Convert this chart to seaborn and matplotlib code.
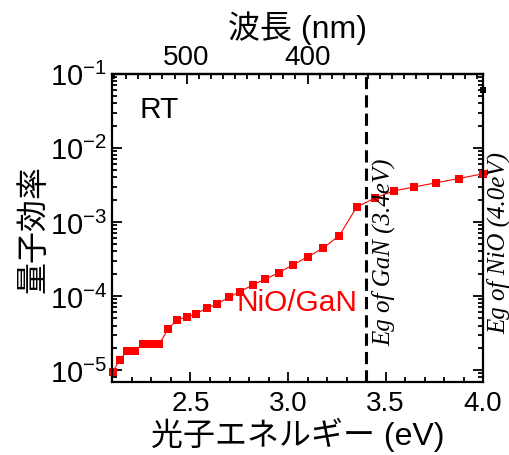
import numpy as np
import pandas as pd
import matplotlib
matplotlib.use("Agg")
import matplotlib.pyplot as plt
import matplotlib.ticker as mticker
import seaborn as sns

# data (wavelength in nm, quantum efficiency)
wavelength_nm = [590, 580, 570, 560, 550, 540, 530, 520, 510, 500,
                 490, 480, 470, 460, 450, 440, 430, 420, 410, 400,
                 390, 380, 370, 360, 350, 340, 330, 320, 310]
qe = [9.5e-6, 1.39e-5, 1.83e-5, 1.83e-5, 2.23e-5, 2.23e-5, 2.23e-5, 3.58e-5, 4.8e-5, 5.15e-5,
      5.8e-5, 6.85e-5, 7.85e-5, 9.6e-5, 1.15e-4, 1.41e-4, 1.69e-4, 2.06e-4, 2.64e-4, 3.36e-4,
      4.42e-4, 6.56e-4, 1.58e-3, 2.1e-3, 2.62e-3, 2.97e-3, 3.37e-3, 3.85e-3, 4.47e-3]
stray_point = (4.0, 0.06)
eg_gan = 3.4
x_ticks = [2.5, 3.0, 3.5, 4.0]
top_ticks = [500, 400]

df = pd.DataFrame({"energy": [1240 / w for w in wavelength_nm], "qe": qe})

sns.set_style("ticks", {"axes.edgecolor": "black", "text.color": "black",
                        "axes.labelcolor": "black", "xtick.color": "black",
                        "ytick.color": "black"})
plt.rcParams['font.family'] = ['Liberation Sans', 'Noto Sans CJK JP', 'DejaVu Sans']
plt.rcParams['mathtext.fontset'] = 'custom'
plt.rcParams['mathtext.rm'] = 'Liberation Sans'
plt.rcParams['mathtext.default'] = 'regular'
plt.rcParams['axes.unicode_minus'] = False

fig = plt.figure(figsize=(5.09, 4.56), dpi=100)
ax = fig.add_axes([0.221, 0.16, 0.728, 0.676])

sns.lineplot(data=df, x="energy", y="qe", ax=ax, color="red", marker="s",
             markersize=6, markeredgewidth=0, linewidth=0.8, clip_on=False)
ax.plot([stray_point[0]], [stray_point[1]], marker="s", color="black",
        markersize=4, markeredgewidth=0, clip_on=False)
ax.axvline(eg_gan, color="black", linestyle=(0, (4, 2)), linewidth=2.2)

ax.set_yscale("log")
ax.set_xlim(2.1, 4.0)
ax.set_ylim(6.9e-6, 0.1)
ax.set_xticks(x_ticks)
ax.xaxis.set_minor_locator(mticker.MultipleLocator(0.1))
ax.yaxis.set_major_locator(mticker.LogLocator(base=10, numticks=10))
ax.yaxis.set_minor_locator(mticker.LogLocator(base=10, subs=np.arange(2, 10), numticks=10))
ax.tick_params(which="both", direction="in", top=False, right=True, width=1.3, labelsize=20)
ax.tick_params(which="major", length=7, pad=6)
ax.tick_params(axis="y", which="major", labelsize=21, pad=4)
ax.tick_params(which="minor", length=3.5)
for s in ax.spines.values():
    s.set_linewidth(1.6)

ax.set_xlabel("光子エネルギー (eV)", fontsize=23, labelpad=0)
ax.set_ylabel("量子効率", fontsize=23, labelpad=0)

# wavelength axis on top
sec = ax.secondary_xaxis("top", functions=(lambda e: 1240 / e, lambda w: 1240 / w))
sec.set_xticks(top_ticks)
sec.xaxis.set_minor_locator(mticker.FixedLocator([1240 / (2.48 + 0.062 * k) for k in range(-6, 25)]))
sec.tick_params(which="both", direction="in", width=1.3, labelsize=20, pad=3)
sec.tick_params(which="major", length=7)
sec.tick_params(which="minor", length=3.5)
sec.spines["top"].set_linewidth(1.6)
sec.set_xlabel("波長 (nm)", fontsize=23, labelpad=5)

ax.text(0.074, 0.886, "RT", transform=ax.transAxes, fontsize=21.5, va="center", ha="left")
ax.text(0.662, 0.26, "NiO/GaN", transform=ax.transAxes, fontsize=21.5, color="red",
        va="center", ha="right")
ax.text(0.732, 0.424, "Eg of GaN (3.4eV)", transform=ax.transAxes, rotation=90,
        fontsize=18, family="Liberation Serif", style="italic", va="center", ha="center")
ax.text(1.041, 0.453, "Eg of NiO (4.0eV)", transform=ax.transAxes, rotation=90,
        fontsize=18, family="Liberation Serif", style="italic", va="center", ha="center",
        clip_on=False)

fig.savefig("out.png", dpi=100)
